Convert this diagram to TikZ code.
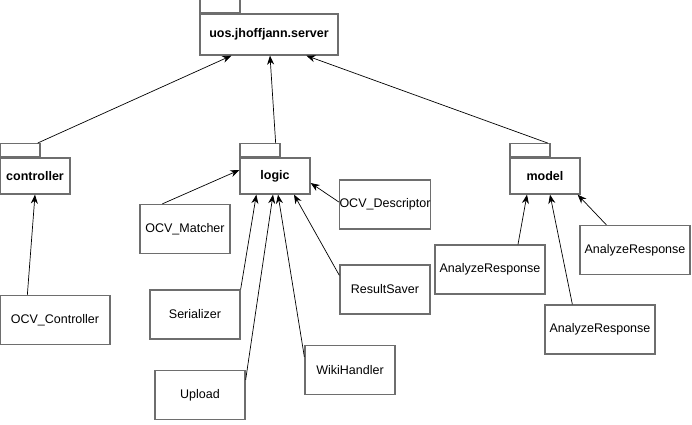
\documentclass[tikz,border=0pt]{standalone}
\usepackage{fontspec}
\setmainfont{Liberation Sans}
\usetikzlibrary{calc,positioning,arrows.meta}
\definecolor{boxgray}{HTML}{6E6E6E}
\tikzstyle{pkg} = [draw=boxgray, line width=1.3pt, minimum width=70pt, minimum height=36pt, inner sep=0pt, font=\fontsize{12.5}{14}\selectfont\bfseries]
\tikzstyle{tab} = [draw=boxgray, line width=1.3pt, minimum width=40pt, minimum height=13pt, inner sep=0pt, anchor=south west]
\tikzstyle{cls} = [draw=boxgray, line width=1.3pt, minimum width=90pt, minimum height=49pt, inner sep=0pt, font=\fontsize{12.5}{14}\selectfont]
\tikzstyle{arrow} = [line width=0.7pt,-{Stealth[length=9pt,width=7pt]}]

\begin{document}
\begin{tikzpicture}[x=1pt,y=-1pt]
	\fill[white] (0,0) rectangle (692,424);
	\useasboundingbox (0,0) rectangle (692,424);
	% packages
	\node[pkg, minimum width=138pt, minimum height=41pt] (srv) at (269,34.5) {uos.jhoffjann.server};
	\node[tab] (srvtab) at (srv.north west) {};
	\node[pkg] (ctrl) at (35,176) {controller};
	\node[tab] (ctrltab) at (ctrl.north west) {};
	\node[pkg] (logic) at (275,176) {logic};
	\node[tab] (logictab) at (logic.north west) {};
	\node[pkg] (model) at (545,176) {model};
	\node[tab] (modeltab) at (model.north west) {};
	% classes
	\node[cls, minimum width=110pt] (octrl) at (55,320) {OCV\_Controller};
	\node[cls] (matcher) at (185,229) {OCV\_Matcher};
	\node[cls] (desc) at (385,204.5) {OCV\_Descriptor};
	\node[cls] (ser) at (195,314.5) {Serializer};
	\node[cls] (upload) at (200,395) {Upload};
	\node[cls] (wiki) at (350,370) {WikiHandler};
	\node[cls] (saver) at (385,289.5) {ResultSaver};
	\node[cls, minimum width=110pt] (arl) at (490,269.5) {AnalyzeResponse};
	\node[cls, minimum width=110pt] (arb) at (600,329.5) {AnalyzeResponse};
	\node[cls, minimum width=110pt] (arr) at (635,250) {AnalyzeResponse};
	% dependencies
	\draw[arrow] ($(ctrltab.north east)+(-3,0)$) -- ($(srv.south west)+(32,0)$);
	\draw[arrow] ($(logictab.north east)+(-5,0)$) -- ($(srv.south)+(1,0)$);
	\draw[arrow] ($(modeltab.north east)+(-3,0)$) -- ($(srv.south west)+(107,0)$);
	\draw[arrow] ($(octrl.north west)+(28,0)$) -- (ctrl.south);
	\draw[arrow] ($(matcher.north west)+(23,0)$) -- ($(logic.west)+(0,-6)$);
	\draw[arrow] ($(desc.west)+(0,-2.5)$) -- ($(logic.east)+(0,7)$);
	\draw[arrow] (ser.north east) -- ($(logic.south west)+(17,0)$);
	\draw[arrow] ($(upload.north east)+(0,10)$) -- ($(logic.south)+(-2,0)$);
	\draw[arrow] ($(wiki.north west)+(0,12)$) -- ($(logic.south)+(3,0)$);
	\draw[arrow] ($(saver.north west)+(0,11)$) -- ($(logic.south)+(19,0)$);
	\draw[arrow] ($(arl.north)+(28,0)$) -- ($(model.south)+(-18,0)$);
	\draw[arrow] ($(arb.north west)+(28,0)$) -- ($(model.south)+(5,0)$);
	\draw[arrow] ($(arr.north west)+(27,0)$) -- ($(model.south east)+(-3,0)$);
\end{tikzpicture}
\end{document}
